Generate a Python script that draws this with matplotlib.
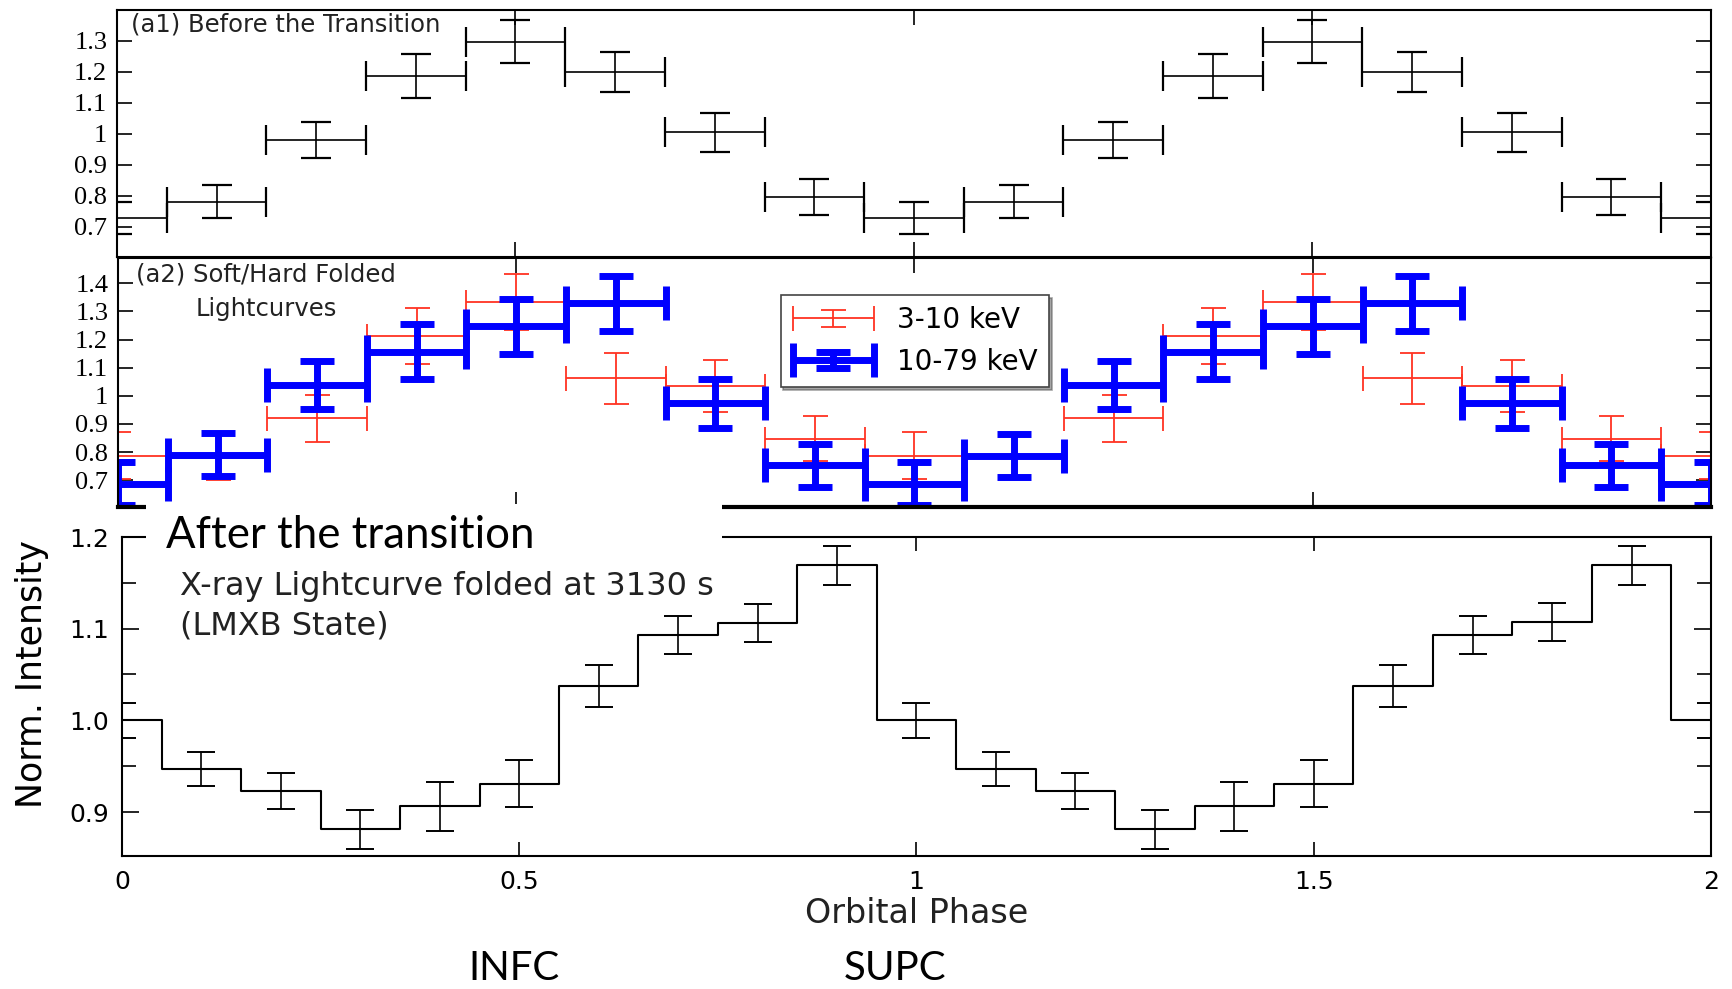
import numpy as np
import matplotlib
matplotlib.use("Agg")
import matplotlib.pyplot as plt
from matplotlib.patches import Rectangle
from matplotlib.container import ErrorbarContainer
from matplotlib.legend_handler import HandlerErrorbar

# ---- data ----
# (a1) before the transition, bins of 0.125 in phase
phase_a1 = np.arange(0, 2.001, 0.125)
rate_a1 = [0.730, 0.781, 0.981, 1.188, 1.298, 1.199, 1.005, 0.797,
           0.730, 0.781, 0.981, 1.188, 1.298, 1.199, 1.005, 0.797, 0.730]
err_a1 = [0.052, 0.053, 0.058, 0.071, 0.070, 0.065, 0.062, 0.059,
          0.052, 0.053, 0.058, 0.071, 0.070, 0.065, 0.062, 0.059, 0.052]

# (a2) soft / hard folded lightcurves
rate_soft = [0.787, 0.780, 0.920, 1.214, 1.334, 1.062, 1.034, 0.848,
             0.787, 0.785, 0.920, 1.214, 1.334, 1.062, 1.034, 0.848, 0.787]
err_soft = [0.083, 0.080, 0.083, 0.100, 0.100, 0.090, 0.093, 0.080,
            0.083, 0.080, 0.083, 0.100, 0.100, 0.090, 0.093, 0.080, 0.083]
rate_hard = [0.688, 0.791, 1.038, 1.157, 1.247, 1.329, 0.974, 0.753,
             0.688, 0.787, 1.038, 1.157, 1.247, 1.329, 0.974, 0.753, 0.688]
err_hard = [0.077, 0.077, 0.085, 0.097, 0.098, 0.098, 0.087, 0.077,
            0.077, 0.077, 0.085, 0.097, 0.098, 0.098, 0.087, 0.077, 0.077]

# after the transition, bins of 0.1 in phase
phase_lc = np.arange(0, 2.001, 0.1)
rate_lc = [1.000, 0.947, 0.923, 0.881, 0.906, 0.931, 1.037, 1.093, 1.106, 1.169,
           1.000, 0.947, 0.923, 0.881, 0.906, 0.931, 1.037, 1.093, 1.107, 1.169, 1.000]
err_lc = [0.019, 0.019, 0.020, 0.021, 0.027, 0.026, 0.023, 0.021, 0.021, 0.021,
          0.019, 0.019, 0.020, 0.021, 0.027, 0.026, 0.023, 0.021, 0.021, 0.021, 0.019]

ticks_a1 = [0.7, 0.8, 0.9, 1.0, 1.1, 1.2, 1.3]
labels_a1 = ["0.7", "0.8", "0.9", "1", "1.1", "1.2", "1.3"]
ticks_a2 = [0.7, 0.8, 0.9, 1.0, 1.1, 1.2, 1.3, 1.4]
labels_a2 = ["0.7", "0.8", "0.9", "1", "1.1", "1.2", "1.3", "1.4"]
ticks_lc = [0.9, 1.0, 1.1, 1.2]
labels_lc = ["0.9", "1.0", "1.1", "1.2"]
ticks_x = [0, 0.5, 1, 1.5, 2]
labels_x = ["0", "0.5", "1", "1.5", "2"]

W, H = 1733, 989
fig = plt.figure(figsize=(W / 100, H / 100), dpi=100)


def px_axes(left, top, right, bottom):
    return fig.add_axes([left / W, 1 - bottom / H, (right - left) / W, (bottom - top) / H])


ax1 = px_axes(117, 10, 1711, 257)
ax2 = px_axes(118, 258, 1711, 507)
ax3 = px_axes(122, 537, 1711, 856)

serif = "Liberation Serif"

# ---- (a1) ----
ax1.errorbar(phase_a1, rate_a1, xerr=0.0625, yerr=err_a1, fmt="none",
             ecolor="black", elinewidth=1.2, capsize=11, capthick=1.6)
ax1.set_xlim(0, 2)
ax1.set_ylim(0.603, 1.40)
ax1.set_yticks(ticks_a1, labels_a1, fontfamily=serif, fontsize=19)
ax1.set_xticks(ticks_x, [])
ax1.tick_params(direction="in", length=11, width=1.2, top=True, right=True, pad=7)
ax1.text(0.009, 0.94, "(a1) Before the Transition", transform=ax1.transAxes,
         fontsize=17.5, va="center", ha="left", color="#222222")

# ---- (a2) ----
ax2.errorbar(phase_a1, rate_soft, xerr=0.0625, yerr=err_soft, fmt="none",
             ecolor="#ff3322", elinewidth=1.3, capsize=9, capthick=1.3,
             label="3-10 keV")
ax2.errorbar(phase_a1, rate_hard, xerr=0.0625, yerr=err_hard, fmt="none",
             ecolor="#0000ff", elinewidth=5, capsize=12, capthick=5,
             label="10-79 keV")
ax2.set_xlim(0, 2)
ax2.set_ylim(0.605, 1.49)
ax2.set_yticks(ticks_a2, labels_a2, fontfamily=serif, fontsize=19)
ax2.set_xticks(ticks_x, [])
ax2.tick_params(direction="in", length=11, width=1.2, top=True, right=True, pad=7)
ax2.spines["bottom"].set_linewidth(3)
ax2.text(0.093, 0.865, "(a2) Soft/Hard Folded\nLightcurves", transform=ax2.transAxes,
         fontsize=17.5, va="center", ha="center", multialignment="center",
         linespacing=1.55, color="#222222")
leg = ax2.legend(loc="upper left", bbox_to_anchor=(0.416, 0.852), fontsize=20,
                 handlelength=3, frameon=True, fancybox=False, shadow=True,
                 edgecolor="#444444", framealpha=1, borderaxespad=0,
                 handler_map={ErrorbarContainer: HandlerErrorbar(xerr_size=1.45, yerr_size=0.3)})
leg.get_frame().set_linewidth(1.2)

# ---- after the transition ----
ax3.step(phase_lc, rate_lc, where="mid", color="black", lw=1.5)
ax3.errorbar(phase_lc, rate_lc, yerr=err_lc, fmt="none", ecolor="black",
             elinewidth=1.2, capsize=10, capthick=1.4)
ax3.set_xlim(0, 2)
ax3.set_ylim(0.852, 1.2)
ax3.set_yticks(ticks_lc, labels_lc, fontsize=18)
ax3.set_yticks([0.95, 1.05, 1.15], minor=True)
ax3.set_xticks(ticks_x, labels_x, fontsize=18)
ax3.tick_params(direction="in", which="both", top=True, right=True, width=1.2)
ax3.tick_params(axis="y", which="major", length=12, pad=9)
ax3.tick_params(axis="y", which="minor", length=10)
ax3.tick_params(axis="x", length=10, pad=10)
ax3.set_ylabel("Norm. Intensity", fontsize=25)
ax3.yaxis.set_label_coords(-0.046, 0.57)
ax3.set_xlabel("Orbital Phase", fontsize=24, labelpad=2, color="#222222")

for ax in (ax1, ax2, ax3):
    for side in ("top", "left", "right"):
        ax.spines[side].set_linewidth(1.5)
ax1.spines["bottom"].set_linewidth(1.5)
ax3.spines["bottom"].set_linewidth(1.5)

# white patch behind the pasted "After the transition" title
fig.patches.append(Rectangle((146 / W, 1 - 560 / H), (722 - 146) / W, (560 - 504) / H,
                             transform=fig.transFigure, facecolor="white",
                             edgecolor="none", zorder=5))
fig.text(166 / W, 1 - 536 / H, "After the transition", fontfamily="Lato",
         fontsize=31.5, va="center", ha="left", zorder=6)
fig.text(180 / W, 1 - 587 / H, "X-ray Lightcurve folded at 3130 s",
         fontsize=23, va="center", ha="left", color="#222222", zorder=6)
fig.text(180 / W, 1 - 626 / H, "(LMXB State)",
         fontsize=23, va="center", ha="left", color="#222222", zorder=6)
fig.text(514 / W, 1 - 968 / H, "INFC", fontfamily="Lato", fontsize=29,
         va="center", ha="center")
fig.text(895 / W, 1 - 968 / H, "SUPC", fontfamily="Lato", fontsize=29,
         va="center", ha="center")

fig.savefig("out.png", dpi=100)
